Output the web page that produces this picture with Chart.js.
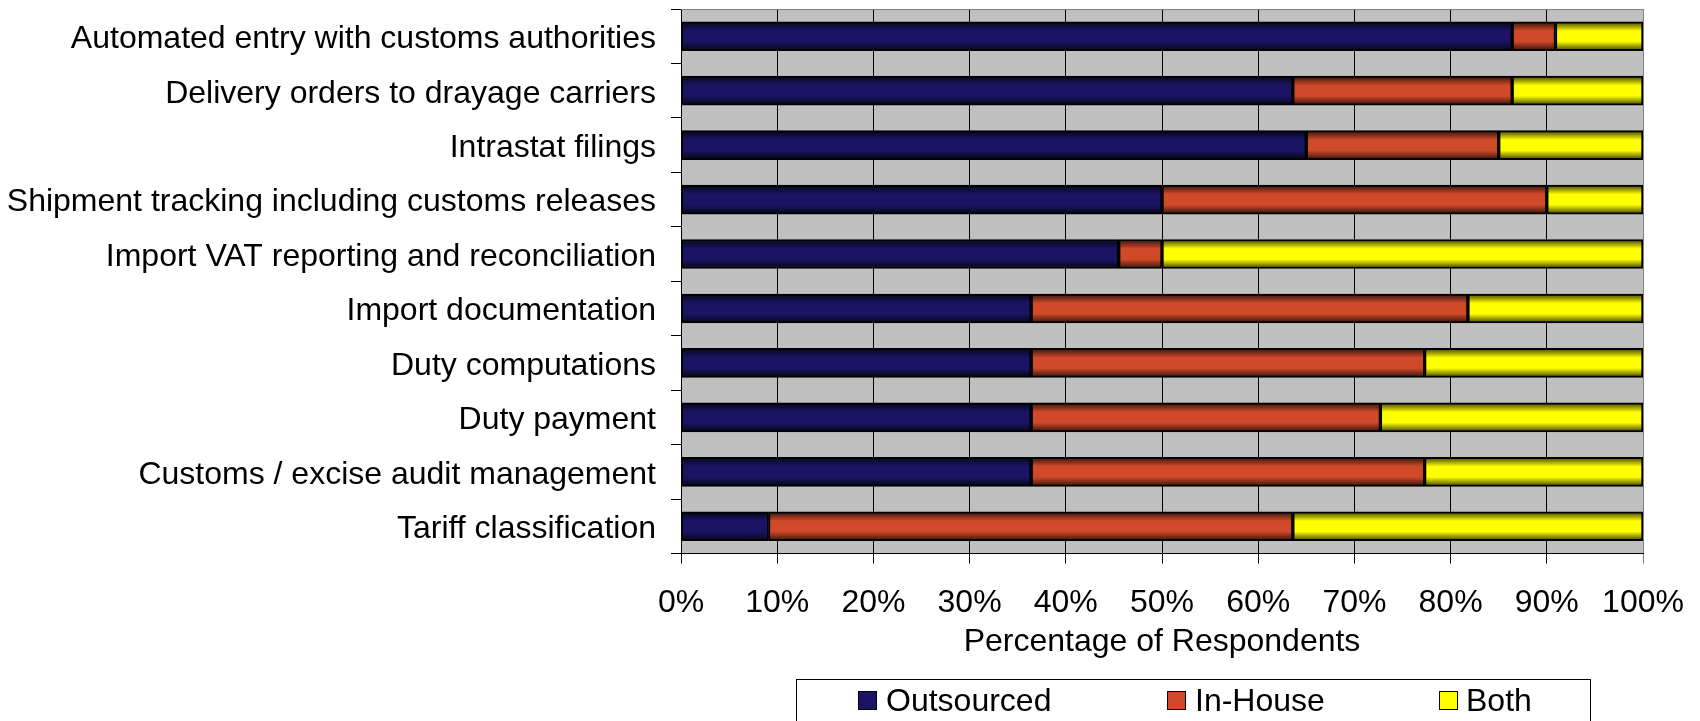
<!DOCTYPE html>
<html>
<head>
<meta charset="utf-8">
<script src="https://cdn.jsdelivr.net/npm/chart.js@4.4.0/dist/chart.umd.min.js"></script>
<style>
html, body { margin: 0; padding: 0; background: #fff; }
#wrap { width: 1700px; height: 721px; position: relative; }
</style>
</head>
<body>
<div id="wrap"><canvas id="bar-chart"></canvas></div>
<script>
var tasks = [
    'Automated entry with customs authorities',
    'Delivery orders to drayage carriers',
    'Intrastat filings',
    'Shipment tracking including customs releases',
    'Import VAT reporting and reconciliation',
    'Import documentation',
    'Duty computations',
    'Duty payment',
    'Customs / excise audit management',
    'Tariff classification'
];
var outsourced = [86.4, 63.6, 65, 50, 45.5, 36.4, 36.4, 36.4, 36.4, 9.1];
var inHouse    = [4.5, 22.8, 20, 40, 4.5, 45.4, 40.9, 36.3, 40.9, 54.5];
var both       = [9.1, 13.6, 15, 10, 50, 18.2, 22.7, 27.3, 22.7, 36.4];
var xTicks = [0, 10, 20, 30, 40, 50, 60, 70, 80, 90, 100];
var seriesNames = ['Outsourced', 'In-House', 'Both'];
var seriesColors = ['#1b1464', '#d04a2a', '#ffff00'];

Chart.defaults.font.family = '"Liberation Sans", Arial, sans-serif';
Chart.defaults.color = '#000';

var BAR_H = 29;

function shade(hex, f) {
    var r = parseInt(hex.substr(1, 2), 16), g = parseInt(hex.substr(3, 2), 16), b = parseInt(hex.substr(5, 2), 16);
    return 'rgb(' + Math.round(r * f) + ',' + Math.round(g * f) + ',' + Math.round(b * f) + ')';
}

// vertical shading like the old office bars
function barFill(color) {
    return function (c) {
        var chart = c.chart;
        var y = chart.scales && chart.scales.y;
        if (!y || !chart.chartArea || c.type !== 'data') return color;
        var mid = y.getPixelForValue(c.dataIndex);
        if (!isFinite(mid)) return color;
        var g = chart.ctx.createLinearGradient(0, mid - BAR_H / 2, 0, mid + BAR_H / 2);
        g.addColorStop(0, shade(color, 0.25));
        g.addColorStop(0.32, color);
        g.addColorStop(0.68, color);
        g.addColorStop(1, shade(color, 0.25));
        return g;
    };
}

var plotBack = {
    id: 'plotBack',
    beforeDraw: function (chart) {
        var a = chart.chartArea, ctx = chart.ctx;
        ctx.save();
        ctx.fillStyle = '#c0c0c0';
        ctx.fillRect(a.left, a.top, a.right - a.left, a.bottom - a.top);
        ctx.restore();
    },
    beforeDatasetsDraw: function (chart) {
        var a = chart.chartArea, ctx = chart.ctx;
        ctx.save();
        ctx.strokeStyle = '#808080';
        ctx.lineWidth = 1;
        ctx.beginPath();
        ctx.moveTo(a.left, Math.round(a.top) + 0.5);
        ctx.lineTo(a.right, Math.round(a.top) + 0.5);
        ctx.stroke();
        ctx.restore();
    }
};

var boxLegend = {
    id: 'boxLegend',
    afterDraw: function (chart) {
        var ctx = chart.ctx;
        var markX = [858, 1167, 1439];
        var textX = [886, 1195, 1466];
        ctx.save();
        ctx.strokeStyle = '#000';
        ctx.lineWidth = 1;
        ctx.strokeRect(796.5, 679.5, 794, 60);
        ctx.font = '32px "Liberation Sans", Arial, sans-serif';
        ctx.textBaseline = 'middle';
        ctx.textAlign = 'left';
        for (var i = 0; i < seriesNames.length; i++) {
            ctx.fillStyle = seriesColors[i];
            ctx.fillRect(markX[i], 691, 19, 19);
            ctx.strokeRect(markX[i] + 0.5, 691.5, 18, 18);
            ctx.fillStyle = '#000';
            ctx.fillText(seriesNames[i], textX[i], 702);
        }
        ctx.restore();
    }
};

function makeSet(i, values) {
    return {
        label: seriesNames[i],
        data: values,
        backgroundColor: barFill(seriesColors[i]),
        borderColor: '#000',
        borderWidth: 2,
        borderSkipped: false,
        barThickness: BAR_H
    };
}

var barChart = document.getElementById('bar-chart');

var myBarChart = new Chart(barChart, {
    type: 'bar',
    data: {
        labels: tasks,
        datasets: [
            makeSet(0, outsourced),
            makeSet(1, inHouse),
            makeSet(2, both)
        ]
    },
    options: {
        indexAxis: 'y',
        maintainAspectRatio: false,
        responsive: true,
        animation: false,
        layout: { padding: { top: 9, right: 57, left: 0, bottom: 0 } },
        plugins: {
            legend: { display: false },
            tooltip: { enabled: false }
        },
        scales: {
            x: {
                stacked: true,
                min: 0,
                max: 100,
                afterBuildTicks: function (s) {
                    s.ticks = xTicks.map(function (v) { return { value: v }; });
                },
                afterFit: function (s) {
                    s.height = 721 - 553.5;
                    s.paddingLeft = 0;
                    s.paddingRight = 0;
                },
                ticks: {
                    autoSkip: false,
                    maxRotation: 0,
                    padding: 20,
                    font: { size: 32 },
                    color: '#000',
                    callback: function (v) { return v + '%'; }
                },
                grid: {
                    color: function (c) { return c.tick && c.tick.value === 100 ? '#808080' : '#000'; },
                    lineWidth: 1,
                    tickLength: 10
                },
                border: { color: '#000', width: 1 },
                title: {
                    display: true,
                    text: 'Percentage of Respondents',
                    font: { size: 32 },
                    color: '#000',
                    padding: { top: 0, bottom: 60 }
                }
            },
            y: {
                stacked: true,
                afterFit: function (s) {
                    s.width = 681;
                    s.paddingTop = 0;
                    s.paddingBottom = 0;
                },
                ticks: {
                    autoSkip: false,
                    padding: 15,
                    labelOffset: 3,
                    font: { size: 32 },
                    color: '#000'
                },
                grid: {
                    drawOnChartArea: false,
                    color: '#000',
                    lineWidth: 1,
                    tickLength: 10
                },
                border: { color: '#000', width: 1 }
            }
        }
    },
    plugins: [plotBack, boxLegend]
});
</script>
</body>
</html>
